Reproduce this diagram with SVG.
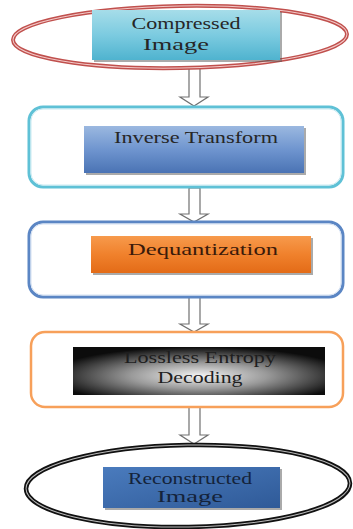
<svg xmlns="http://www.w3.org/2000/svg" width="353" height="529" viewBox="0 0 353 529">
<defs>
<linearGradient id="gCyan" x1="0" y1="0" x2="0" y2="1"><stop offset="0" stop-color="#a6dde9"/><stop offset="0.5" stop-color="#7ccbe0"/><stop offset="1" stop-color="#4fb3cf"/></linearGradient>
<linearGradient id="gBlue" x1="0" y1="0" x2="0" y2="1"><stop offset="0" stop-color="#9bb8e0"/><stop offset="0.5" stop-color="#6f95cf"/><stop offset="1" stop-color="#4a73b4"/></linearGradient>
<linearGradient id="gOrange" x1="0" y1="0" x2="0" y2="1"><stop offset="0" stop-color="#f79a4c"/><stop offset="0.5" stop-color="#f0812c"/><stop offset="1" stop-color="#e36b17"/></linearGradient>
<radialGradient id="gBlack" cx="0.5" cy="0.6" r="0.6"><stop offset="0" stop-color="#f4f4f4"/><stop offset="0.45" stop-color="#9a9a9a"/><stop offset="1" stop-color="#0c0c0c"/></radialGradient>
<linearGradient id="gNavy" x1="0" y1="0" x2="1" y2="1"><stop offset="0" stop-color="#4a7bbd"/><stop offset="1" stop-color="#2f5a98"/></linearGradient>
</defs>
<style>
.t{font-family:"Liberation Serif","DejaVu Serif",serif;font-size:17px;fill:#262626;text-anchor:middle}
.arrow{fill:#ffffff;stroke:#707070;stroke-width:1.2}
.sh{fill:#555;opacity:0.5}
</style>
<g id="connectors">
<path class="arrow" d="M189,68 H200 V97 H208 L194,106 L180,97 H189 Z"/>
<path class="arrow" d="M189,188 H200 V214 H208 L194,222 L180,214 H189 Z"/>
<path class="arrow" d="M189,297 H200 V324 H208 L194,332 L180,324 H189 Z"/>
<path class="arrow" d="M189,407 H200 V435 H208 L194,444 L180,435 H189 Z"/>
</g>
<g id="compressed">
<ellipse cx="180" cy="37" rx="167" ry="31" fill="none" stroke="#c0504d" stroke-width="4" transform="rotate(-1 180 37)"/>
<ellipse cx="180" cy="37" rx="167" ry="31" fill="none" stroke="#f3c9c8" stroke-width="1" transform="rotate(-1 180 37)"/>
<rect class="sh" x="94" y="12" width="188" height="50"/>
<rect x="92" y="10" width="188" height="50" fill="url(#gCyan)"/>
<text class="t" x="186" y="29" textLength="109" lengthAdjust="spacingAndGlyphs">Compressed</text>
<text class="t" x="176" y="50" textLength="66" lengthAdjust="spacingAndGlyphs">Image</text>
</g>
<g id="inverse">
<rect x="29" y="107" width="314" height="80" rx="14" fill="#fff" stroke="#5fc1d6" stroke-width="3"/>
<rect x="31" y="109" width="310" height="76" rx="12" fill="none" stroke="#c9eaf2" stroke-width="1"/>
<rect class="sh" x="86" y="128" width="220" height="47"/>
<rect x="84" y="126" width="220" height="47" fill="url(#gBlue)"/>
<text class="t" x="196" y="143" textLength="164" lengthAdjust="spacingAndGlyphs">Inverse Transform</text>
</g>
<g id="dequant">
<rect x="29" y="222" width="314" height="75" rx="14" fill="#fff" stroke="#5b86c4" stroke-width="3"/>
<rect x="31" y="224" width="310" height="71" rx="12" fill="none" stroke="#d3e0f2" stroke-width="1"/>
<rect class="sh" x="93" y="238" width="220" height="37"/>
<rect x="91" y="236" width="220" height="37" fill="url(#gOrange)"/>
<text class="t" x="203" y="255" textLength="150" lengthAdjust="spacingAndGlyphs" style="fill:#3a1a0a">Dequantization</text>
</g>
<g id="lossless">
<rect x="31" y="332" width="312" height="75" rx="14" fill="#fff" stroke="#f7a05a" stroke-width="2.5"/>
<rect x="73" y="347" width="252" height="48" fill="url(#gBlack)"/>
<text class="t" x="200" y="363" textLength="152" lengthAdjust="spacingAndGlyphs" style="fill:#1e1e1e">Lossless Entropy</text>
<text class="t" x="200" y="383" textLength="85" lengthAdjust="spacingAndGlyphs" style="fill:#1e1e1e">Decoding</text>
</g>
<g id="reconstructed">
<ellipse cx="188" cy="486" rx="162" ry="41" fill="none" stroke="#111" stroke-width="4.5" transform="rotate(-1 188 486)"/>
<ellipse cx="188" cy="486" rx="162" ry="41" fill="none" stroke="#bbb" stroke-width="1" transform="rotate(-1 188 486)"/>
<rect class="sh" x="105" y="469" width="177" height="41"/>
<rect x="103" y="467" width="177" height="41" fill="url(#gNavy)"/>
<text class="t" x="190" y="484" textLength="124" lengthAdjust="spacingAndGlyphs" style="fill:#14233a">Reconstructed</text>
<text class="t" x="190" y="502" textLength="66" lengthAdjust="spacingAndGlyphs" style="fill:#14233a">Image</text>
</g>
</svg>
